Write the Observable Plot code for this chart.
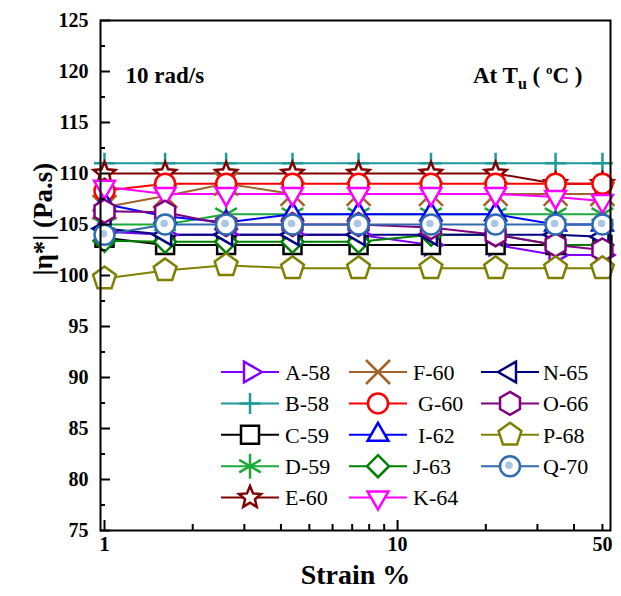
<!DOCTYPE html>
<html><head><meta charset="utf-8">
<script src="https://cdn.jsdelivr.net/npm/d3@7"></script>
<script src="https://cdn.jsdelivr.net/npm/@observablehq/plot@0.6"></script>
<style>
body{margin:0;background:#fff;}
#chart{position:relative;width:621px;height:596px;}
#legend{position:absolute;left:0;top:0;pointer-events:none;}
</style>
</head><body><div id="chart"></div>
<script>
// ---- data ----
const strain = [1, 1.61, 2.6, 4.38, 7.36, 13, 21.6, 34.6, 50];
const A58 = [104.3, 104, 104, 104, 104, 103, 103, 102, 102];
const B58 = [111, 111, 111, 111, 111, 111, 111, 111, 111];
const C59 = [103.7, 103, 103, 103, 103, 103, 103, 103, 103];
const D59 = [105, 105, 106, 106, 106, 106, 106, 106, 106];
const E60 = [110, 110, 110, 110, 110, 110, 110, 109, 109];
const F60 = [106.7, 107.8, 109, 108, 108, 108, 108, 108, 108];
const G60 = [108.3, 109, 109, 109, 109, 109, 109, 109, 109];
const I62 = [107, 105.8, 105.2, 106, 106, 106, 106, 105, 105];
const J63 = [103.4, 103.3, 103.3, 103.3, 103.3, 104, 104, 103, 103];
const K64 = [108.7, 108, 108, 108, 108, 108, 108, 107.7, 107.3];
const N65 = [104.6, 104, 104, 104, 104, 104, 104, 104, 103.8];
const O66 = [106.3, 106.2, 105, 105, 105, 104.7, 104, 103, 102.5];
const P68 = [99.7, 100.5, 101, 100.7, 100.7, 100.7, 100.7, 100.7, 100.7];
const Q70 = [104, 105, 105, 105, 105, 105, 105, 105, 105];
const seriesNames = ["A-58","B-58","C-59","D-59","E-60","F-60","G-60","I-62","J-63","K-64","N-65","O-66","P-68","Q-70"];
const seriesValues = [A58,B58,C59,D59,E60,F60,G60,I62,J63,K64,N65,O66,P68,Q70];
const seriesColors = ["#8000ff","#1f9a9a","#000000","#1aaa3a","#800000","#a0642a","#ff0000","#0000ff","#008000","#ff00ff","#000080","#800080","#808000","#2f6bb0"];
const yMajorTicks = [75,80,85,90,95,100,105,110,115,120,125];
const yMinorTicks = [77.5,82.5,87.5,92.5,97.5,102.5,107.5,112.5,117.5,122.5];
const xMajorTicks = [1, 10];
const xMinorTicks = [2,3,4,5,6,7,8,9,20,30,40,50];
const xTickLabels = [1, 10, 50];
const legendColumns = [["A-58","B-58","C-59","D-59","E-60"],["F-60","G-60","I-62","J-63","K-64"],["N-65","O-66","P-68","Q-70"]];

// ---- symbols ----
const rad = s => Math.sqrt(s / Math.PI);
function poly(n, rot, k = 1) {
  return {draw(ctx, size) {
    const r = rad(size) * k;
    for (let i = 0; i < n; i++) {
      const a = rot + i * 2 * Math.PI / n;
      const x = r * Math.cos(a), y = r * Math.sin(a);
      if (i) ctx.lineTo(x, y); else ctx.moveTo(x, y);
    }
    ctx.closePath();
  }};
}
const symRight = poly(3, 0);
const symUp = poly(3, -Math.PI / 2);
const symDown = poly(3, Math.PI / 2);
const symLeft = poly(3, Math.PI);
const symSquare = poly(4, Math.PI / 4, Math.SQRT2 * 0.75);
const symDiamond = poly(4, -Math.PI / 2);
const symHex = poly(6, -Math.PI / 2);
const symPent = poly(5, -Math.PI / 2);
const symCircle = {draw(ctx, size) { const r = rad(size); ctx.moveTo(r, 0); ctx.arc(0, 0, r, 0, 2 * Math.PI); ctx.closePath(); }};
const symPlus = {draw(ctx, size) { const r = rad(size); ctx.moveTo(0, -r); ctx.lineTo(0, r); ctx.moveTo(-r, 0); ctx.lineTo(r, 0); }};
const symTimes = {draw(ctx, size) { const r = rad(size); ctx.moveTo(-r, -r); ctx.lineTo(r, r); ctx.moveTo(-r, r); ctx.lineTo(r, -r); }};
const symAsterisk = {draw(ctx, size) { const r = rad(size);
  for (const a of [Math.PI / 2, Math.PI / 6, 5 * Math.PI / 6]) { ctx.moveTo(r * Math.cos(a), r * Math.sin(a)); ctx.lineTo(-r * Math.cos(a), -r * Math.sin(a)); } }};
const symStar = {draw(ctx, size) { const r = rad(size);
  for (let i = 0; i < 10; i++) { const a = -Math.PI / 2 + i * Math.PI / 5; const rr = i % 2 ? r * 0.45 : r;
    const x = rr * Math.cos(a), y = rr * Math.sin(a); if (i) ctx.lineTo(x, y); else ctx.moveTo(x, y); }
  ctx.closePath(); }};
const seriesSymbols = [symRight, symPlus, symSquare, symAsterisk, symStar, symTimes, symCircle, symUp, symDiamond, symDown, symLeft, symHex, symPent, symCircle];
const seriesR = [12, 10.5, 12, 12.5, 11.5, 12, 10, 12, 11, 12, 12, 11.5, 12, 10];

const series = seriesNames.map((name, i) => ({name, color: seriesColors[i], symbol: seriesSymbols[i], r: seriesR[i],
  rows: strain.map((s, j) => ({strain: s, value: seriesValues[i][j]}))}));

// ---- marks ----
const marks = [];
series.forEach(s => marks.push(Plot.line(s.rows, {x: "strain", y: "value", stroke: s.color, strokeWidth: 2})));
series.forEach(s => {
  marks.push(Plot.dot(s.rows, {x: "strain", y: "value", r: s.r, symbol: s.symbol, stroke: s.color, fill: "white", strokeWidth: 2.5}));
  if (s.name === "Q-70") marks.push(Plot.dot(s.rows, {x: "strain", y: "value", r: 3.8, fill: "#a9c6e6", dx: -1, dy: -1}));
});
marks.push(Plot.frame({stroke: "black", strokeWidth: 2}));
marks.push(Plot.axisY(yMajorTicks, {tickSize: -10, tickPadding: 22, strokeWidth: 2, fontSize: 20, fontWeight: "bold", tickFormat: d => String(d), label: null}));
marks.push(Plot.axisY(yMinorTicks, {tickSize: -5, strokeWidth: 2, tickFormat: () => "", label: null}));
marks.push(Plot.axisX(xMajorTicks, {tickSize: -10, strokeWidth: 2, tickFormat: () => "", label: null}));
marks.push(Plot.axisX(xMinorTicks, {tickSize: -6, strokeWidth: 2, tickFormat: () => "", label: null}));
marks.push(Plot.text(xTickLabels, {x: d => d, text: d => String(d), frameAnchor: "bottom", lineAnchor: "top", dy: 6, fontSize: 20, fontWeight: "bold"}));
marks.push(Plot.text(["10 rad/s"], {text: d => d, frameAnchor: "top-left", textAnchor: "start", dx: 25, dy: 46, fontSize: 23, fontWeight: "bold"}));
marks.push(Plot.text(["At Tu (°C)"], {text: d => d, frameAnchor: "top-right", textAnchor: "end", dx: -28, dy: 46, fontSize: 23, fontWeight: "bold"}));
marks.push(Plot.text(["|η*| (Pa.s)"], {text: d => d, frameAnchor: "left", rotate: -90, dx: -57, fontSize: 27, fontWeight: "bold"}));
marks.push(Plot.text(["Strain %"], {text: d => d, frameAnchor: "bottom", dy: 53, fontSize: 28, fontWeight: "bold"}));

const svg = Plot.plot({
  width: 621, height: 596,
  marginLeft: 100, marginRight: 11, marginTop: 20, marginBottom: 66,
  style: {fontFamily: "'Liberation Serif', 'Times New Roman', serif", background: "white", color: "black"},
  x: {type: "log", domain: [0.969, 53.27], axis: null},
  y: {domain: [75, 125], axis: null},
  marks
});
document.getElementById("chart").appendChild(svg);

// subscript / superscript for "At Tu (°C)"
d3.select(svg).selectAll("text").filter(function() { return this.textContent === "At Tu (°C)"; }).each(function() {
  const t = d3.select(this);
  t.text(null);
  t.append("tspan").text("At T");
  t.append("tspan").attr("dy", 6).attr("font-size", 16).text("u");
  t.append("tspan").attr("dy", -6).text(" ( ");
  t.append("tspan").attr("dy", -9).attr("font-size", 13).text("o");
  t.append("tspan").attr("dy", 9).text("C )");
});

// ---- legend (overlay inside plot area) ----
const lg = d3.select("#chart").append("svg").attr("id", "legend").attr("width", 621).attr("height", 596)
  .style("font-family", "'Liberation Serif', 'Times New Roman', serif");
const colCx = [250, 378, 510];
const colTx = [285, 413, 543];
const rowY0 = 372, rowStep = 31.4;
const textShift = {"G-60": 5, "I-62": 5};
legendColumns.forEach((col, ci) => col.forEach((name, ri) => {
  const s = series.find(d => d.name === name);
  const y = rowY0 + ri * rowStep, cx = colCx[ci];
  lg.append("line").attr("x1", cx - 29).attr("x2", cx + 29).attr("y1", y).attr("y2", y).attr("stroke", s.color).attr("stroke-width", 2);
  lg.append("path").attr("transform", `translate(${cx},${y})`).attr("d", d3.symbol(s.symbol, Math.PI * s.r * s.r)())
    .attr("fill", "white").attr("stroke", s.color).attr("stroke-width", 2.5);
  if (name === "Q-70") lg.append("circle").attr("cx", cx - 1).attr("cy", y - 1).attr("r", 3.8).attr("fill", "#a9c6e6");
  lg.append("text").attr("x", colTx[ci] + (textShift[name] || 0)).attr("y", y).attr("dy", "0.35em").attr("font-size", 22).text(name);
}));
</script>
</body></html>
